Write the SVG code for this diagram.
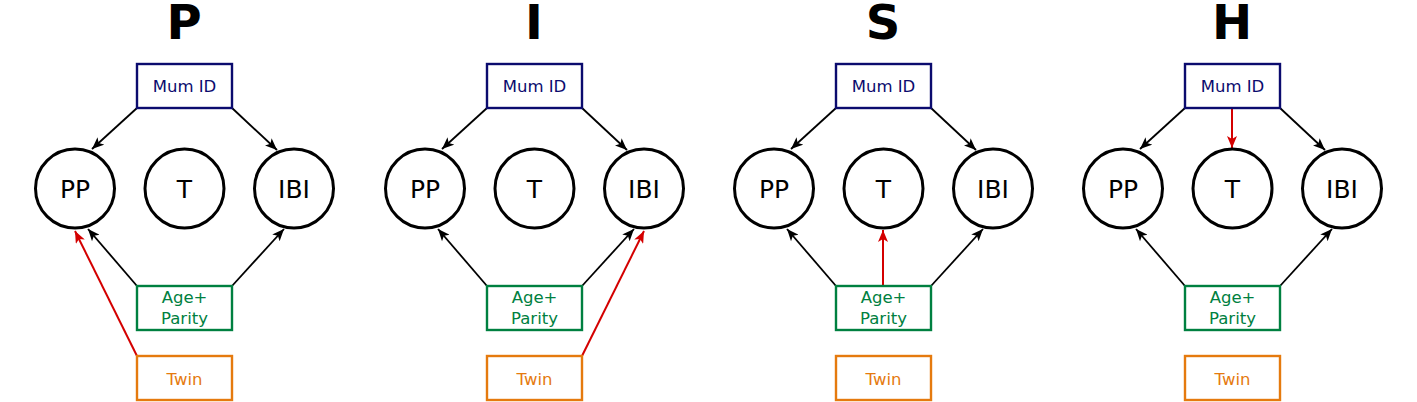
<svg xmlns="http://www.w3.org/2000/svg" width="1417" height="402" viewBox="0 0 1417 402">
<style>
.title{font-family:"DejaVu Sans",sans-serif;font-weight:bold;font-size:48px;text-anchor:middle;fill:#000}
.circ{fill:#fff;stroke:#000;stroke-width:3}
.ctext{font-family:"DejaVu Sans",sans-serif;font-size:25px;text-anchor:middle;fill:#000}
.mum{fill:#fff;stroke:#0b0b6e;stroke-width:2.4}
.mumt{font-family:"DejaVu Sans",sans-serif;font-size:16.5px;text-anchor:middle;fill:#0b0b6e}
.age{fill:#fff;stroke:#008040;stroke-width:2.4}
.aget{font-family:"DejaVu Sans",sans-serif;font-size:16.5px;text-anchor:middle;fill:#008040}
.twin{fill:#fff;stroke:#e57a0e;stroke-width:2.4}
.twint{font-family:"DejaVu Sans",sans-serif;font-size:16.5px;text-anchor:middle;fill:#e57a0e}
.e{fill:none;stroke:#000;stroke-width:1.8;marker-end:url(#ab)}
.r{fill:none;stroke:#d40000;stroke-width:2;marker-end:url(#ar)}
</style>
<defs>
<marker id="ab" markerUnits="userSpaceOnUse" viewBox="0 0 12 10" refX="12" refY="5" markerWidth="13" markerHeight="10" orient="auto"><path d="M0,0 L12,5 L0,10 L3,5 Z" fill="#000"/></marker>
<marker id="ar" markerUnits="userSpaceOnUse" viewBox="0 0 12 10" refX="12" refY="5" markerWidth="13" markerHeight="10" orient="auto"><path d="M0,0 L12,5 L0,10 L3,5 Z" fill="#d40000"/></marker>
</defs>

<g id="titles">
<text class="title" x="184" y="39">P</text>
<text class="title" x="534" y="39">I</text>
<text class="title" x="883" y="39">S</text>
<text class="title" x="1232" y="39">H</text>
</g>

<g id="connectors">
<!-- P -->
<line class="e" x1="137" y1="108" x2="92" y2="149"/>
<line class="e" x1="232" y1="108" x2="277" y2="150"/>
<line class="e" x1="137" y1="286" x2="88" y2="229"/>
<line class="e" x1="232" y1="286" x2="284" y2="229"/>
<line class="r" x1="137" y1="356" x2="75" y2="231"/>
<!-- I -->
<line class="e" x1="487" y1="108" x2="442" y2="149"/>
<line class="e" x1="582" y1="108" x2="627" y2="150"/>
<line class="e" x1="487" y1="286" x2="438" y2="229"/>
<line class="e" x1="582" y1="286" x2="634" y2="229"/>
<line class="r" x1="582" y1="356" x2="644" y2="231"/>
<!-- S -->
<line class="e" x1="836" y1="108" x2="791" y2="149"/>
<line class="e" x1="931" y1="108" x2="976" y2="150"/>
<line class="e" x1="836" y1="286" x2="787" y2="229"/>
<line class="e" x1="931" y1="286" x2="983" y2="229"/>
<line class="r" x1="883" y1="286" x2="883" y2="230"/>
<!-- H -->
<line class="e" x1="1185" y1="108" x2="1140" y2="149"/>
<line class="e" x1="1280" y1="108" x2="1325" y2="150"/>
<line class="e" x1="1185" y1="286" x2="1136" y2="229"/>
<line class="e" x1="1280" y1="286" x2="1332" y2="229"/>
<line class="r" x1="1232" y1="108" x2="1232" y2="148"/>
</g>

<!-- Panel P -->
<g id="P-mum"><rect class="mum" x="137" y="64" width="95" height="44"/><text class="mumt" x="184.5" y="92">Mum ID</text></g>
<g id="P-PP"><circle class="circ" cx="75" cy="188.5" r="39.5"/><text class="ctext" x="75" y="198">PP</text></g>
<g id="P-T"><circle class="circ" cx="184.5" cy="188.5" r="39.5"/><text class="ctext" x="184.5" y="198">T</text></g>
<g id="P-IBI"><circle class="circ" cx="294" cy="188.5" r="39.5"/><text class="ctext" x="294" y="198">IBI</text></g>
<g id="P-age"><rect class="age" x="137" y="286" width="95" height="44"/><text class="aget" x="184.5" y="303">Age+</text><text class="aget" x="184.5" y="324">Parity</text></g>
<g id="P-twin"><rect class="twin" x="137" y="356" width="95" height="44"/><text class="twint" x="184.5" y="385">Twin</text></g>

<!-- Panel I -->
<g id="I-mum"><rect class="mum" x="487" y="64" width="95" height="44"/><text class="mumt" x="534.5" y="92">Mum ID</text></g>
<g id="I-PP"><circle class="circ" cx="425" cy="188.5" r="39.5"/><text class="ctext" x="425" y="198">PP</text></g>
<g id="I-T"><circle class="circ" cx="534.5" cy="188.5" r="39.5"/><text class="ctext" x="534.5" y="198">T</text></g>
<g id="I-IBI"><circle class="circ" cx="644" cy="188.5" r="39.5"/><text class="ctext" x="644" y="198">IBI</text></g>
<g id="I-age"><rect class="age" x="487" y="286" width="95" height="44"/><text class="aget" x="534.5" y="303">Age+</text><text class="aget" x="534.5" y="324">Parity</text></g>
<g id="I-twin"><rect class="twin" x="487" y="356" width="95" height="44"/><text class="twint" x="534.5" y="385">Twin</text></g>

<!-- Panel S -->
<g id="S-mum"><rect class="mum" x="836" y="64" width="95" height="44"/><text class="mumt" x="883.5" y="92">Mum ID</text></g>
<g id="S-PP"><circle class="circ" cx="774" cy="188.5" r="39.5"/><text class="ctext" x="774" y="198">PP</text></g>
<g id="S-T"><circle class="circ" cx="883.5" cy="188.5" r="39.5"/><text class="ctext" x="883.5" y="198">T</text></g>
<g id="S-IBI"><circle class="circ" cx="993" cy="188.5" r="39.5"/><text class="ctext" x="993" y="198">IBI</text></g>
<g id="S-age"><rect class="age" x="836" y="286" width="95" height="44"/><text class="aget" x="883.5" y="303">Age+</text><text class="aget" x="883.5" y="324">Parity</text></g>
<g id="S-twin"><rect class="twin" x="836" y="356" width="95" height="44"/><text class="twint" x="883.5" y="385">Twin</text></g>

<!-- Panel H -->
<g id="H-mum"><rect class="mum" x="1185" y="64" width="95" height="44"/><text class="mumt" x="1232.5" y="92">Mum ID</text></g>
<g id="H-PP"><circle class="circ" cx="1123" cy="188.5" r="39.5"/><text class="ctext" x="1123" y="198">PP</text></g>
<g id="H-T"><circle class="circ" cx="1232.5" cy="188.5" r="39.5"/><text class="ctext" x="1232.5" y="198">T</text></g>
<g id="H-IBI"><circle class="circ" cx="1342" cy="188.5" r="39.5"/><text class="ctext" x="1342" y="198">IBI</text></g>
<g id="H-age"><rect class="age" x="1185" y="286" width="95" height="44"/><text class="aget" x="1232.5" y="303">Age+</text><text class="aget" x="1232.5" y="324">Parity</text></g>
<g id="H-twin"><rect class="twin" x="1185" y="356" width="95" height="44"/><text class="twint" x="1232.5" y="385">Twin</text></g>
</svg>
